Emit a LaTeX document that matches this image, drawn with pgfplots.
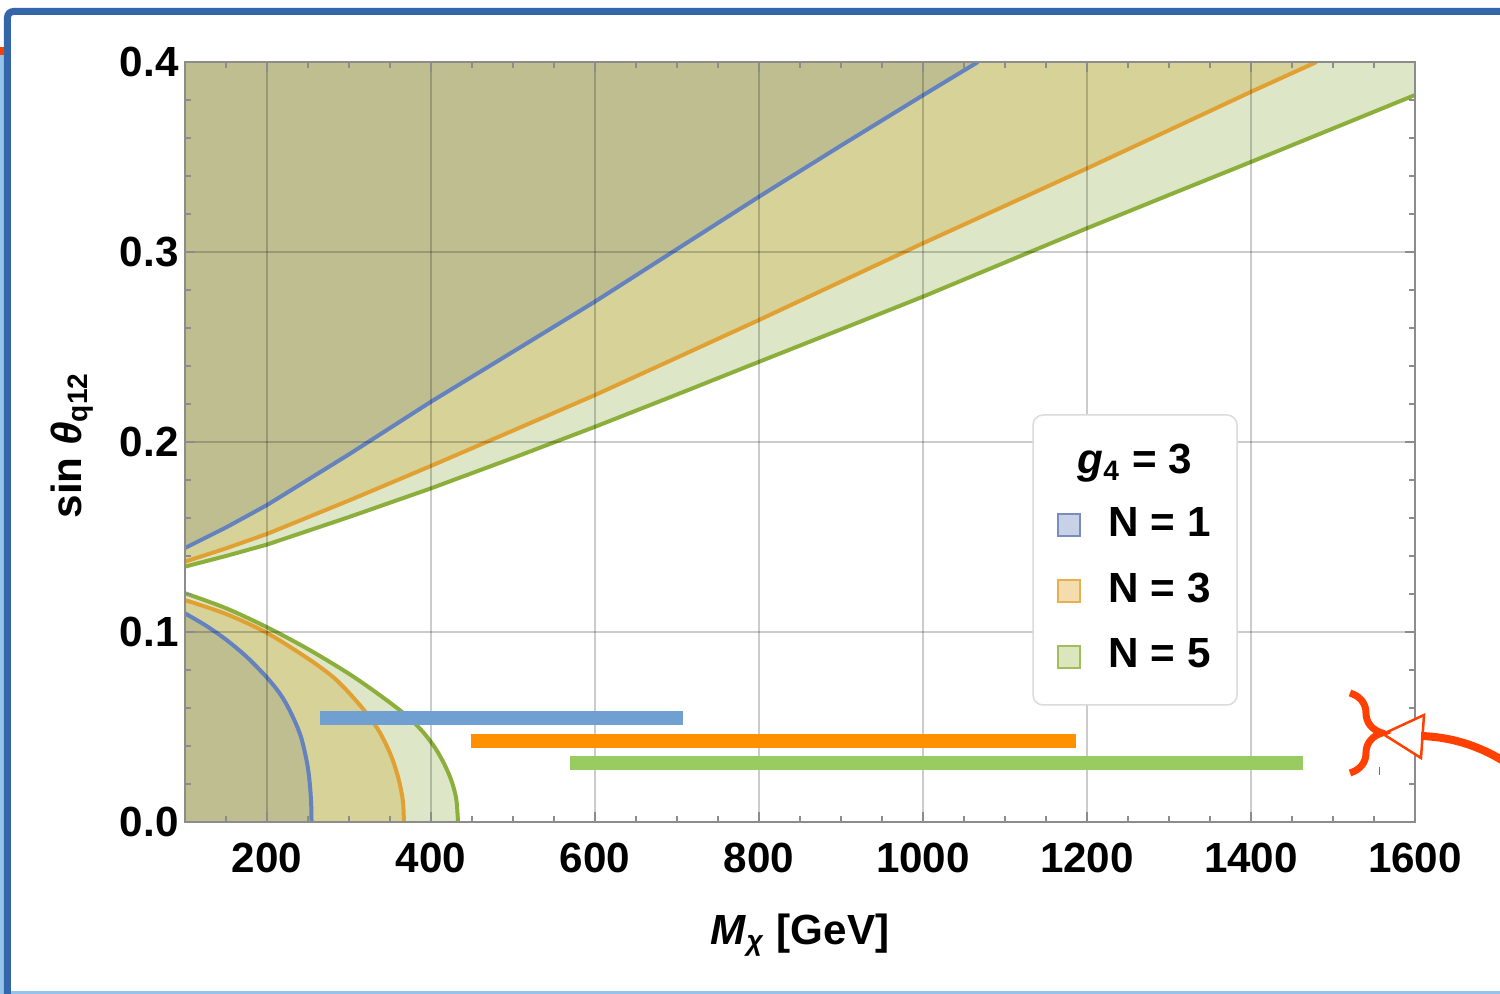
\documentclass[border=0pt]{standalone}
\usepackage{fontspec}
\setmainfont{Liberation Sans}
\usepackage{pgfplots}
\pgfplotsset{compat=1.18}
\usetikzlibrary{decorations.pathreplacing}
\definecolor{fillG}{RGB}{222,230,200}
\definecolor{fillO}{RGB}{214,210,152}
\definecolor{fillB}{RGB}{190,190,145}
\definecolor{lineB}{RGB}{100,130,190}
\definecolor{lineO}{RGB}{225,160,50}
\definecolor{lineG}{RGB}{140,175,60}
\definecolor{barB}{RGB}{112,160,210}
\definecolor{barO}{RGB}{255,145,0}
\definecolor{barG}{RGB}{152,204,96}
\definecolor{frameC}{RGB}{52,102,170}
\definecolor{frameL}{RGB}{150,195,235}
\definecolor{ann}{RGB}{255,64,0}
\definecolor{swB}{RGB}{200,210,230}
\definecolor{swBd}{RGB}{120,140,190}
\definecolor{swO}{RGB}{245,220,175}
\definecolor{swOd}{RGB}{230,175,80}
\definecolor{swG}{RGB}{220,230,190}
\definecolor{swGd}{RGB}{160,190,90}
\begin{document}
\begin{tikzpicture}[font=\fontsize{12}{14}\selectfont\bfseries]
\useasboundingbox (-1.85cm,-1.72cm) rectangle (13.15cm,8.22cm);
\fill[white] (-1.85cm,-1.72cm) rectangle (13.15cm,8.22cm);
\pgfplotsset{myax/.style={
  at={(0,0)}, anchor=south west,
  scale only axis, width=12.3cm, height=7.6cm,
  xmin=100, xmax=1600, ymin=0, ymax=0.4}}
\begin{axis}[myax,
  xtick={200,400,600,800,1000,1200,1400,1600},
  xticklabels={200,400,600,800,1000,1200,1400,1600},
  ytick={0,0.1,0.2,0.3,0.4},
  yticklabels={0.0,0.1,0.2,0.3,0.4},
  minor xtick={100,150,...,1600},
  minor ytick={0,0.02,0.04,0.06,0.08,0.1,0.12,0.14,0.16,0.18,0.2,0.22,0.24,0.26,0.28,0.3,0.32,0.34,0.36,0.38,0.4},
  tick align=inside, major tick length=1mm, minor tick length=0.6mm,
  tick style={black!45, line width=0.15mm},
  grid=major, grid style={black, opacity=0.2, line width=0.15mm},
  axis line style={black!45, line width=0.15mm},
  axis on top,
  tick label style={font=\fontsize{12}{14}\selectfont\bfseries},
  /pgf/number format/assume math mode=true,
  xticklabel style={yshift=-0.9mm},
  yticklabel style={xshift=0.6mm},
  xlabel={\textit{M}\textsubscript{\textit{χ}} [GeV]},
  ylabel={sin \textit{θ}\textsubscript{q12}},
  label style={font=\fontsize{12}{14}\selectfont\bfseries},
  xlabel style={at={(axis description cs:0.5,-0.1487)}, anchor=center},
  ylabel style={at={(axis description cs:-0.0919,0.496)}, anchor=center},
]
% upper fills
\addplot[draw=none, fill=fillG] coordinates {(100,0.1344) (150,0.1400) (200,0.1460) (300,0.1605) (400,0.1756) (500,0.1916) (600,0.2080) (700,0.2250) (800,0.2422) (900,0.2593) (1000,0.2765) (1100,0.2945) (1200,0.3125) (1300,0.3300) (1400,0.3474) (1500,0.3650) (1600,0.3826) (1600,0.4) (100,0.4)};
\addplot[draw=none, fill=fillO] coordinates {(100,0.1370) (150,0.1440) (200,0.1516) (300,0.1692) (400,0.1874) (500,0.2060) (600,0.2247) (700,0.2444) (800,0.2642) (900,0.2844) (1000,0.3046) (1100,0.3243) (1200,0.3440) (1300,0.3641) (1400,0.3843) (1480,0.4) (100,0.4)};
\addplot[draw=none, fill=fillB] coordinates {(100,0.1442) (150,0.1550) (200,0.1668) (300,0.1935) (400,0.2212) (500,0.2475) (600,0.2739) (700,0.3015) (800,0.3291) (900,0.3560) (1000,0.3825) (1067,0.4) (100,0.4)};
% lower fills
\addplot[draw=none, fill=fillG] coordinates {(100,0.1204) (150,0.1125) (200,0.1025) (250,0.0910) (300,0.0780) (340,0.0660) (370,0.0560) (390,0.0475) (405,0.0390) (415,0.0315) (422,0.0250) (427,0.0190) (431,0.0115) (433,0) (100,0)};
\addplot[draw=none, fill=fillO] coordinates {(100,0.1168) (150,0.1095) (200,0.0995) (250,0.0860) (280,0.0765) (300,0.0680) (320,0.0580) (335,0.0490) (345,0.0410) (353,0.0330) (359,0.0250) (363,0.0180) (366,0.0100) (367,0) (100,0)};
\addplot[draw=none, fill=fillB] coordinates {(100,0.1098) (125,0.1035) (150,0.0960) (175,0.0870) (200,0.0760) (215,0.0680) (225,0.0610) (235,0.0520) (242,0.0440) (248,0.0330) (251,0.0250) (253,0.0160) (254,0.0080) (254.3,0) (100,0)};
% upper lines
\addplot[lineG, line width=0.4mm] coordinates {(100,0.1344) (150,0.1400) (200,0.1460) (300,0.1605) (400,0.1756) (500,0.1916) (600,0.2080) (700,0.2250) (800,0.2422) (900,0.2593) (1000,0.2765) (1100,0.2945) (1200,0.3125) (1300,0.3300) (1400,0.3474) (1500,0.3650) (1600,0.3826)};
\addplot[lineO, line width=0.4mm] coordinates {(100,0.1370) (150,0.1440) (200,0.1516) (300,0.1692) (400,0.1874) (500,0.2060) (600,0.2247) (700,0.2444) (800,0.2642) (900,0.2844) (1000,0.3046) (1100,0.3243) (1200,0.3440) (1300,0.3641) (1400,0.3843) (1480,0.4)};
\addplot[lineB, line width=0.4mm] coordinates {(100,0.1442) (150,0.1550) (200,0.1668) (300,0.1935) (400,0.2212) (500,0.2475) (600,0.2739) (700,0.3015) (800,0.3291) (900,0.3560) (1000,0.3825) (1067,0.4)};
% lower lines
\addplot[lineG, line width=0.4mm, smooth, tension=0.5] coordinates {(100,0.1204) (150,0.1125) (200,0.1025) (250,0.0910) (300,0.0780) (340,0.0660) (370,0.0560) (390,0.0475) (405,0.0390) (415,0.0315) (422,0.0250) (427,0.0190) (431,0.0115) (433,0)};
\addplot[lineO, line width=0.4mm, smooth, tension=0.5] coordinates {(100,0.1168) (150,0.1095) (200,0.0995) (250,0.0860) (280,0.0765) (300,0.0680) (320,0.0580) (335,0.0490) (345,0.0410) (353,0.0330) (359,0.0250) (363,0.0180) (366,0.0100) (367,0)};
\addplot[lineB, line width=0.4mm, smooth, tension=0.5] coordinates {(100,0.1098) (125,0.1035) (150,0.0960) (175,0.0870) (200,0.0760) (215,0.0680) (225,0.0610) (235,0.0520) (242,0.0440) (248,0.0330) (251,0.0250) (253,0.0160) (254,0.0080) (254.3,0)};
\end{axis}
\begin{axis}[myax, hide axis]
\addplot[barB, line width=1.35mm] coordinates {(265,0.0546) (707,0.0546)};
\addplot[barO, line width=1.45mm] coordinates {(449,0.0427) (1187,0.0427)};
\addplot[barG, line width=1.4mm] coordinates {(569.5,0.0311) (1463,0.0311)};
\end{axis}
\begin{scope}[x=0.1mm, y=-0.1mm, shift={(-1.85cm,8.22cm)}]
% slide frame
\fill[frameL] (0,55) rectangle (4,994);
\fill[ann] (0,47) rectangle (4,55);
\draw[frameC, line width=0.7mm, rounded corners=0.6mm] (7.5,996) -- (7.5,11.5) -- (1505,11.5);
\draw[frameL, line width=0.25mm] (11,992.5) -- (1500,992.5);
% legend
\draw[rounded corners=1mm, draw=black!14, fill=white, line width=0.15mm] (1033,415) rectangle (1237,705);
\node[anchor=base, inner sep=0pt] at (1135,474) {\textit{g}\textsubscript{4} = 3};
\draw[fill=swB, draw=swBd, line width=0.2mm] (1058,514) rectangle (1080,536);
\draw[fill=swO, draw=swOd, line width=0.2mm] (1058,580) rectangle (1080,602);
\draw[fill=swG, draw=swGd, line width=0.2mm] (1058,646) rectangle (1080,668);
\node[anchor=base west, inner sep=0pt] at (1108,537) {N = 1};
\node[anchor=base west, inner sep=0pt] at (1108,603) {N = 3};
\node[anchor=base west, inner sep=0pt] at (1108,668) {N = 5};
% annotation
\draw[ann, line width=0.25mm, fill=white] (1383,734) -- (1424,715) -- (1421,758) -- cycle;
\draw[ann, line width=0.8mm] (1421,736) .. controls (1450,737) and (1478,745) .. (1505,762);
\draw[ann, line width=0.1mm] (1379,767) -- (1379,775);
\end{scope}
\draw[ann, line width=0.7mm, decorate, decoration={brace, amplitude=3.2mm}] (11.65cm,1.29cm) -- (11.65cm,0.49cm);
\end{tikzpicture}
\end{document}
